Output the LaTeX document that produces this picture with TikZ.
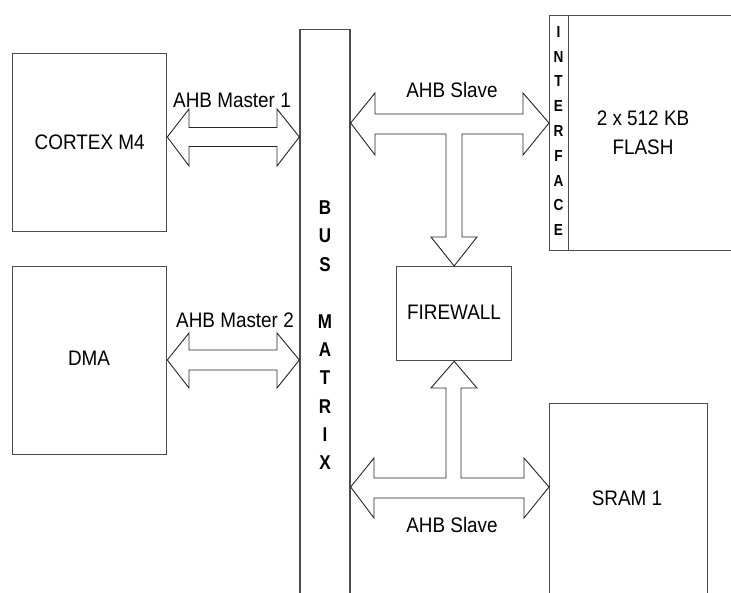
\documentclass[tikz,border=0pt]{standalone}
\usepackage{fontspec}
\setmainfont{Liberation Sans}
\usepackage{graphicx}
\usetikzlibrary{calc}
\newcommand\hsq[1]{\scalebox{0.9}[1]{#1}}
\begin{document}
\begin{tikzpicture}[x=1pt,y=-1pt,
  box/.style={draw=black!70,line width=1.3pt,fill=white,inner sep=0pt},
  lbl/.style={font=\fontsize{21}{24}\selectfont,inner sep=0pt},
  ltr/.style={font=\fontsize{20}{24}\selectfont\bfseries,inner sep=0pt},
  iltr/.style={font=\fontsize{16}{18}\selectfont\bfseries,inner sep=0pt},
  barrow/.style={draw=black!85,line width=0.9pt,fill=white,line join=miter}]
\useasboundingbox (0,0) rectangle (731,593);
\clip (0,0) rectangle (731,593);
\fill[white] (0,0) rectangle (731,593);

% boxes
\node[box,minimum width=154pt,minimum height=178pt,anchor=north west] (cpu) at (12,53) {};
\node[lbl] (cputxt) at (cpu.center) {\hsq{CORTEX M4}};
\node[box,minimum width=154pt,minimum height=188pt,anchor=north west] (dma) at (12,266) {};
\node[lbl] (dmatxt) at (89,358) {\hsq{DMA}};
\node[box,minimum width=50pt,minimum height=600pt,anchor=north] (bus) at (325,29) {};
\node[box,minimum width=200pt,minimum height=235pt,anchor=north west] (flash) at (568,15) {};
\node[box,minimum width=19pt,minimum height=235pt,anchor=north west] (iface) at (549,15) {};
\node[lbl] (flashtxt1) at (643,118) {\hsq{2 x 512 KB}};
\node[lbl] (flashtxt2) at (643,147) {\hsq{FLASH}};
\node[box,minimum width=115pt,minimum height=94pt,anchor=north west] (fw) at (396,266) {};
\node[lbl] (fwtxt) at (454,312) {\hsq{FIREWALL}};
\node[box,minimum width=158pt,minimum height=250pt,anchor=north west] (sram) at (549,403) {};
\node[lbl] (sramtxt) at (627,498) {\hsq{SRAM 1}};

% vertical letters
\foreach \l/\yy [count=\i] in {B/208,U/236,S/265,M/322,A/350,T/378,R/407,I/435,X/463}
  \node[ltr] (busl\i) at (325,\yy) {\scalebox{0.85}[1]{\l}};
\foreach \l [count=\i] in {I,N,T,E,R,F,A,C,E}
  \node[iltr] (ifl\i) at (558.5,{32+(\i-1)*24.75}) {\scalebox{0.85}[1]{\l}};

% master arrows
\draw[barrow] (cpu.east |- 0,137) -- (189,109) -- (189,127.5) -- (277,127.5) -- (277,109)
  -- (bus.west |- 0,137) -- (277,166) -- (277,146.5) -- (189,146.5) -- (189,166) -- cycle;
\node[lbl] (m1) at (232,100) {\hsq{AHB Master 1}};
\draw[barrow] (dma.east |- 0,360) -- (189,333) -- (189,350) -- (277,350) -- (277,333)
  -- (bus.west |- 0,360) -- (277,388) -- (277,370) -- (189,370) -- (189,388) -- cycle;
\node[lbl] (m2) at (235,320) {\hsq{AHB Master 2}};

% flash T arrow
\draw[barrow] (bus.east |- 0,123) -- (375,93) -- (375,114) -- (523,114) -- (523,93)
  -- (iface.west |- 0,123) -- (523,155) -- (523,134) -- (462,134) -- (462,237) -- (477,237)
  -- (fw.north) -- (431,237) -- (446,237) -- (446,134) -- (375,134) -- (375,155) -- cycle;
\node[lbl] (s1) at (452,90) {\hsq{AHB Slave}};

% sram T arrow
\draw[barrow] (bus.east |- 0,487) -- (374,458) -- (374,478) -- (446,478) -- (446,388)
  -- (431,388) -- (fw.south) -- (477,388) -- (461,388) -- (461,478) -- (524,478) -- (524,458)
  -- (sram.west |- 0,487) -- (524,518) -- (524,498) -- (374,498) -- (374,518) -- cycle;
\node[lbl] (s2) at (452,525) {\hsq{AHB Slave}};
\end{tikzpicture}
\end{document}
